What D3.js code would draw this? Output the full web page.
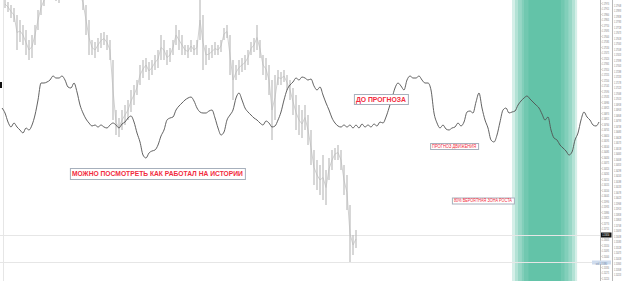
<!DOCTYPE html>
<html>
<head>
<meta charset="utf-8">
<script src="https://cdnjs.cloudflare.com/ajax/libs/d3/7.8.5/d3.min.js"></script>
<style>
html, body { margin: 0; padding: 0; background: #fff; }
svg { display: block; }
</style>
</head>
<body>
<div id="chart"></div>
<script>
// M5 bars, history part (gray)
var barHigh = [
  1.1800, 1.1798, 1.1795, 1.1792, 1.1785, 1.1780, 1.1775, 1.1770, 1.1760, 1.1765,
  1.1775, 1.1790, 1.1800, 1.1805, 1.1815, 1.1820, 1.1815, 1.1810, 1.1808, 1.1815,
  1.1820, 1.1825, 1.1822, 1.1818, 1.1815, 1.1810, 1.1805, 1.1795, 1.1780, 1.1760,
  1.1758, 1.1762, 1.1767, 1.1768, 1.1765, 1.1760, 1.1740, 1.1690, 1.1682, 1.1690,
  1.1695, 1.1700, 1.1710, 1.1715, 1.1720, 1.1735, 1.1740, 1.1742, 1.1738, 1.1740,
  1.1745, 1.1750, 1.1765, 1.1760, 1.1750, 1.1752, 1.1760, 1.1775, 1.1770, 1.1765,
  1.1755, 1.1755, 1.1760, 1.1755, 1.1760, 1.1800, 1.1785, 1.1755, 1.1752, 1.1755,
  1.1758, 1.1755, 1.1760, 1.1772, 1.1775, 1.1765, 1.1740, 1.1735, 1.1740, 1.1742,
  1.1745, 1.1750, 1.1758, 1.1762, 1.1775, 1.1760, 1.1745, 1.1742, 1.1735, 1.1720,
  1.1725, 1.1730, 1.1728, 1.1730, 1.1725, 1.1720, 1.1712, 1.1705, 1.1695, 1.1690,
  1.1695, 1.1685, 1.1670, 1.1650, 1.1640, 1.1635, 1.1645, 1.1630, 1.1642, 1.1650,
  1.1652, 1.1655, 1.1650, 1.1635, 1.1625, 1.1595, 1.1565, 1.1570
];
var barLow = [
  1.1792, 1.1788, 1.1782, 1.1778, 1.1750, 1.1758, 1.1755, 1.1745, 1.1740, 1.1742,
  1.1755, 1.1770, 1.1785, 1.1794, 1.1803, 1.1805, 1.1802, 1.1799, 1.1797, 1.1803,
  1.1808, 1.1810, 1.1808, 1.1805, 1.1803, 1.1801, 1.1790, 1.1765, 1.1745, 1.1745,
  1.1742, 1.1748, 1.1752, 1.1755, 1.1750, 1.1740, 1.1680, 1.1665, 1.1663, 1.1670,
  1.1675, 1.1680, 1.1688, 1.1695, 1.1705, 1.1715, 1.1722, 1.1728, 1.1720, 1.1725,
  1.1730, 1.1732, 1.1740, 1.1740, 1.1735, 1.1738, 1.1745, 1.1755, 1.1750, 1.1745,
  1.1745, 1.1742, 1.1748, 1.1745, 1.1745, 1.1760, 1.1730, 1.1735, 1.1740, 1.1742,
  1.1745, 1.1745, 1.1748, 1.1760, 1.1762, 1.1725, 1.1700, 1.1720, 1.1725, 1.1728,
  1.1730, 1.1735, 1.1745, 1.1748, 1.1750, 1.1742, 1.1725, 1.1720, 1.1705, 1.1660,
  1.1680, 1.1715, 1.1715, 1.1718, 1.1710, 1.1700, 1.1685, 1.1670, 1.1665, 1.1662,
  1.1670, 1.1655, 1.1635, 1.1615, 1.1610, 1.1605, 1.1600, 1.1595, 1.1620, 1.1630,
  1.1640, 1.1640, 1.1630, 1.1605, 1.1590, 1.1538, 1.1545, 1.1552
];

// forecast line, one value per bar, starting at bar -1
var forecastStart = -1;
var forecast = [
  1.1692,
  1.1687, 1.1678, 1.1673, 1.1677, 1.1673, 1.1670, 1.1667, 1.1672, 1.1670, 1.1675,
  1.1685, 1.1700, 1.1717, 1.1717, 1.1718, 1.1720, 1.1724, 1.1722, 1.1722, 1.1724,
  1.1720, 1.1713, 1.1712, 1.1717, 1.1708, 1.1695, 1.1687, 1.1681, 1.1677, 1.1674,
  1.1675, 1.1673, 1.1675, 1.1673, 1.1672, 1.1675, 1.1677, 1.1675, 1.1672, 1.1676,
  1.1678, 1.1682, 1.1684, 1.1678, 1.1667, 1.1658, 1.1645, 1.1642, 1.1647, 1.1649,
  1.1650, 1.1655, 1.1664, 1.1670, 1.1680, 1.1682, 1.1683, 1.1690, 1.1694, 1.1697,
  1.1700, 1.1702, 1.1703, 1.1699, 1.1692, 1.1688, 1.1687, 1.1687, 1.1689, 1.1690,
  1.1682, 1.1672, 1.1665, 1.1668, 1.1680, 1.1685, 1.1690, 1.1702, 1.1707, 1.1700,
  1.1692, 1.1688, 1.1685, 1.1682, 1.1680, 1.1677, 1.1675, 1.1679, 1.1677, 1.1673,
  1.1674, 1.1680, 1.1688, 1.1700, 1.1710, 1.1715, 1.1718, 1.1722, 1.1720, 1.1723,
  1.1722, 1.1720, 1.1721, 1.1714, 1.1710, 1.1713, 1.1705, 1.1697, 1.1690, 1.1682,
  1.1677, 1.1674, 1.1673, 1.1675, 1.1673, 1.1675, 1.1672, 1.1675, 1.1672, 1.1676,
  1.1673, 1.1675, 1.1673, 1.1676, 1.1674, 1.1678, 1.1677, 1.1683, 1.1692, 1.1702,
  1.1712, 1.1717, 1.1714, 1.1710, 1.1720, 1.1724, 1.1722, 1.1722, 1.1724, 1.1720,
  1.1717, 1.1717, 1.1710, 1.1687, 1.1677, 1.1672, 1.1675, 1.1671, 1.1670, 1.1672,
  1.1673, 1.1677, 1.1674, 1.1678, 1.1688, 1.1689, 1.1687, 1.1698, 1.1707, 1.1692,
  1.1680, 1.1672, 1.1660, 1.1658, 1.1665, 1.1678, 1.1690, 1.1692, 1.1687, 1.1688,
  1.1689, 1.1695, 1.1699, 1.1702, 1.1704, 1.1701, 1.1698, 1.1695, 1.1692, 1.1686,
  1.1680, 1.1683, 1.1670, 1.1662, 1.1660, 1.1655, 1.1652, 1.1649, 1.1645, 1.1648,
  1.1660, 1.1667, 1.1680, 1.1688, 1.1683, 1.1680, 1.1675, 1.1674, 1.1678
];

// probability zone, nested bands (bar numbers)
var zoneFrom = [169, 170, 171, 172.3, 173, 174.5];
var zoneTo   = [190.7, 190, 189, 187.8, 186.5, 185.3];

// text labels
var noteText  = ['ДО ПРОГНОЗА', 'МОЖНО ПОСМОТРЕТЬ КАК РАБОТАЛ НА ИСТОРИИ', 'ПРОГНОЗ ДВИЖЕНИЯ', '80% ВЕРОЯТНАЯ ЗОНА РОСТА'];
var noteBar   = [125.3, 50.8, 149.7, 159.3];
var notePrice = [1.1701, 1.16265, 1.1654, 1.15995];

var bidPrice = 1.1565;
var askPrice = 1.1538;

var W = 624, H = 281, plotRight = 600;

var x = d3.scaleLinear().domain([0, 198]).range([5, 599]);
var y = d3.scaleLinear().domain([1.1519, 1.1800]).range([H, 0]);

var svg = d3.select('#chart').append('svg')
  .attr('width', W)
  .attr('height', H)
  .style('font-family', 'Liberation Sans, Arial, sans-serif');

svg.append('defs').append('clipPath').attr('id', 'plot')
  .append('rect').attr('x', 0).attr('y', 0).attr('width', plotRight).attr('height', H);

var plot = svg.append('g').attr('clip-path', 'url(#plot)');

// zone
plot.append('g').selectAll('rect')
  .data(zoneFrom)
  .enter().append('rect')
  .attr('x', function (d) { return x(d); })
  .attr('width', function (d, i) { return x(zoneTo[i]) - x(d); })
  .attr('y', 0)
  .attr('height', H)
  .attr('fill', '#2db08e')
  .attr('fill-opacity', 0.2);

// grid-ish lines
plot.append('line')
  .attr('x1', 3.5).attr('x2', 3.5).attr('y1', 0).attr('y2', H)
  .attr('stroke', '#e6e6e6');
[bidPrice, askPrice].forEach(function (p) {
  plot.append('line')
    .attr('x1', 0).attr('x2', plotRight)
    .attr('y1', Math.round(y(p)) + 0.5).attr('y2', Math.round(y(p)) + 0.5)
    .attr('stroke', '#e6e6e6');
});

// history bars: hi-lo range plus a faint path through bar middles
var mid = d3.line()
  .x(function (d, i) { return x(i); })
  .y(function (d, i) { return y((d + barLow[i]) / 2); });
plot.append('path')
  .attr('d', mid(barHigh))
  .attr('fill', 'none')
  .attr('stroke', '#d2d2d2')
  .attr('stroke-width', 1);

plot.append('g').selectAll('line')
  .data(barHigh)
  .enter().append('line')
  .attr('x1', function (d, i) { return x(i); })
  .attr('x2', function (d, i) { return x(i); })
  .attr('y1', function (d) { return y(d); })
  .attr('y2', function (d, i) { return y(barLow[i]); })
  .attr('stroke', '#bcbcbc')
  .attr('stroke-width', 1.2);

// forecast line
var line = d3.line()
  .x(function (d, i) { return x(forecastStart + i); })
  .y(function (d) { return y(d); })
  .curve(d3.curveMonotoneX);

plot.append('path')
  .attr('d', line(forecast))
  .attr('fill', 'none')
  .attr('stroke', '#505050')
  .attr('stroke-width', 0.9);

// small marker on the left edge
svg.append('rect').attr('x', 0).attr('y', 82).attr('width', 2).attr('height', 6).attr('fill', '#111');

// notes
var notes = plot.append('g').selectAll('g')
  .data(noteText)
  .enter().append('g')
  .attr('transform', function (d, i) {
    return 'translate(' + x(noteBar[i]) + ',' + y(notePrice[i]) + ')';
  });
var noteSize = [8, 8, 5, 5];
var noteW = [54, 175, 48, 62];
var noteH = [10, 11, 6, 6];
notes.append('rect')
  .attr('x', function (d, i) { return -noteW[i] / 2 + 0.5; })
  .attr('y', function (d, i) { return -noteH[i] / 2 + 0.5; })
  .attr('width', function (d, i) { return noteW[i]; })
  .attr('height', function (d, i) { return noteH[i]; })
  .attr('fill', '#fff')
  .attr('stroke', '#a7b0bc')
  .attr('stroke-width', 1);
notes.append('text')
  .attr('text-anchor', 'middle')
  .attr('dy', '0.36em')
  .attr('font-size', function (d, i) { return noteSize[i]; })
  .attr('font-weight', function (d, i) { return i < 2 ? 'bold' : 'normal'; })
  .attr('textLength', function (d, i) { return noteW[i] - 4; })
  .attr('lengthAdjust', 'spacingAndGlyphs')
  .attr('fill', '#f22c40')
  .text(function (d) { return d; });

// price scales
var fmt = d3.format('.5f');
var sx = 0.62; // horizontal squeeze of the tiny scale labels
var ticks = d3.range(1.17970, 1.1522, -0.00055).filter(function (t) {
  return Math.abs(y(t) - y(bidPrice)) > 3.5 && Math.abs(y(t) - y(askPrice)) > 3.5;
});
var ticks2 = d3.range(1.17948, 1.1522, -0.00055);

var axis1 = svg.append('g')
  .attr('transform', 'translate(' + (plotRight + 0.5) + ',0)')
  .call(d3.axisRight(y).tickValues(ticks).tickSize(1).tickPadding(1.5).tickFormat(fmt));
var axis2 = svg.append('g')
  .attr('transform', 'translate(612.5,0)')
  .call(d3.axisRight(y).tickValues(ticks2).tickSize(0).tickPadding(1.5).tickFormat(fmt));

[axis1, axis2].forEach(function (a) {
  a.select('.domain').attr('stroke', '#b8b8b8').attr('d', 'M0,0V' + H);
  a.selectAll('line').attr('stroke', '#b8b8b8');
  a.selectAll('text')
    .attr('font-size', 3.2)
    .attr('x', 1.5 / sx)
    .attr('transform', 'scale(' + sx + ',1)')
    .attr('fill', '#777');
});

// current price tag
var bid = svg.append('g').attr('transform', 'translate(601,' + y(bidPrice) + ')');
bid.append('rect').attr('x', 0).attr('y', -2.5).attr('width', 10.5).attr('height', 5).attr('fill', '#111');
bid.append('text').attr('x', 1.2 / sx).attr('dy', '0.35em').attr('font-size', 3.2)
  .attr('transform', 'scale(' + sx + ',1)')
  .attr('fill', '#fff').text(fmt(bidPrice));

// ask line tag
var ask = svg.append('g').attr('transform', 'translate(592,' + y(askPrice) + ')');
ask.append('rect').attr('x', 0).attr('y', -1.5).attr('width', 19).attr('height', 4).attr('fill', '#cfdcee');
ask.append('text').attr('x', 9.5 / 0.7).attr('dy', '0.85em').attr('font-size', 3)
  .attr('text-anchor', 'middle')
  .attr('transform', 'scale(0.7,1)')
  .attr('fill', '#6a7f9c').text('ask ' + fmt(askPrice));
</script>
</body>
</html>
